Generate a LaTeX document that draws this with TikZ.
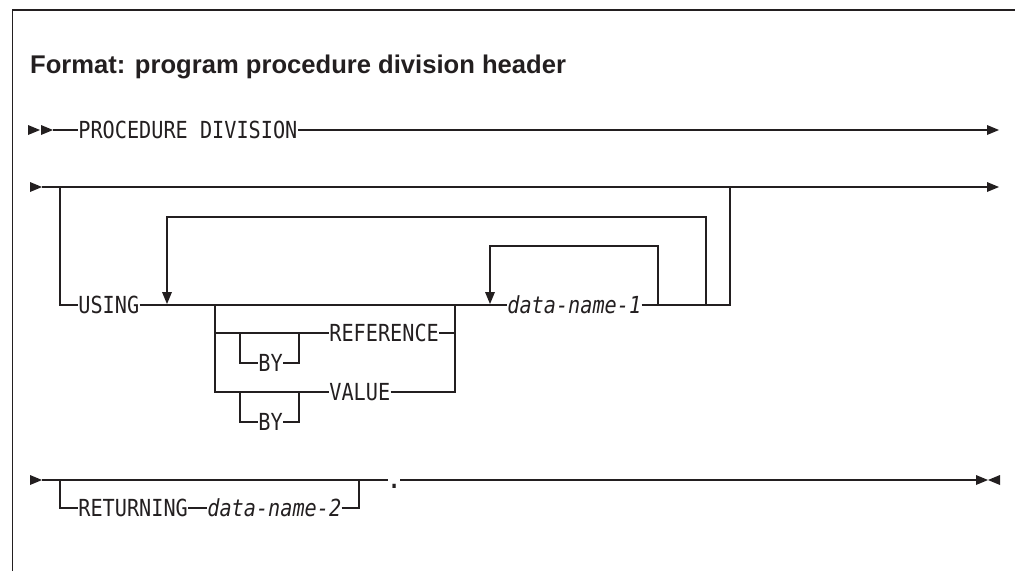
\documentclass[tikz,border=0pt]{standalone}
\usepackage{fontspec}
\setmainfont{Liberation Sans}
\newfontfamily\synmono[FakeStretch=0.86]{DejaVu Sans Mono}
\definecolor{ink}{RGB}{35,31,32}
\newcommand\railR[2]{\fill[ink] (#1,#2-5) -- (#1+12,#2) -- (#1,#2+5) -- cycle;}
\newcommand\railL[2]{\fill[ink] (#1,#2-5) -- (#1-12,#2) -- (#1,#2+5) -- cycle;}
\newcommand\railD[2]{\fill[ink] (#1-5,#2-12) -- (#1,#2) -- (#1+5,#2-12) -- cycle;}
\tikzset{
  rail/.style={draw=ink, line width=1.2pt},
  kw/.style={font=\synmono\fontsize{23.5}{28}\selectfont, text=ink, inner xsep=0.4pt, inner ysep=0pt, outer sep=0pt, anchor=base west},
  var/.style={kw, font=\synmono\itshape\fontsize{23.5}{28}\selectfont},
}
\begin{document}
\begin{tikzpicture}[x=1pt, y=-1pt]
\useasboundingbox (0,0) rectangle (1015,571);
% frame
\draw[ink, line width=1.3pt] (12.5,571) -- (12.5,10) -- (1015,10);
\node[font=\bfseries\fontsize{25.6}{30}\selectfont, anchor=base west, inner sep=0pt, text=ink] (title) at (30,73) {Format: program procedure division header};

% ---------- row 1
\node[kw] (proc) at (78,138) {PROCEDURE DIVISION};
\coordinate (s1) at (53,130);
\coordinate (e1) at (987,130);
\railR{28}{130}\railR{41}{130}
\draw[rail] (s1) -- (proc.west |- s1);
\draw[rail] (proc.east |- s1) -- (e1);
\railR{987}{130}

% ---------- row 2
\node[kw] (using) at (78,313) {USING};
\node[kw] (ref) at (329,341) {REFERENCE};
\node[kw] (by1) at (258,371) {BY};
\node[kw] (val) at (329,400) {VALUE};
\node[kw] (by2) at (258,430) {BY};
\node[var] (dn1) at (507,313) {data-name-1};

\coordinate (s2) at (42,187);
\coordinate (b2) at (60,187);
\coordinate (j2) at (730,187);
\coordinate (e2) at (987,187);
\coordinate (m0) at (60,305);
\coordinate (m9) at (730,305);
\railR{30}{187}
\draw[rail] (s2) -- (e2);
\railR{987}{187}
\draw[rail] (b2) -- (m0) -- (using.west |- m0);
\draw[rail] (using.east |- m0) -- (dn1.west |- m0);
\draw[rail] (dn1.east |- m0) -- (m9) -- (j2);

% choice REFERENCE / VALUE
\coordinate (c0) at (215,305);
\coordinate (c1) at (215,333);
\coordinate (c2) at (215,392);
\coordinate (d0) at (455,305);
\coordinate (d1) at (455,333);
\coordinate (d2) at (455,392);
\draw[rail] (c0) -- (c2) -- (val.west |- c2);
\draw[rail] (c1) -- (ref.west |- c1);
\draw[rail] (ref.east |- d1) -- (d1);
\draw[rail] (val.east |- d2) -- (d2) -- (d0);

% optional BY (reference)
\coordinate (ba) at (240,333);
\coordinate (bb) at (240,363);
\coordinate (bc) at (299,363);
\coordinate (bd) at (299,333);
\draw[rail] (ba) -- (bb) -- (by1.west |- bb);
\draw[rail] (by1.east |- bb) -- (bc) -- (bd);
% optional BY (value)
\coordinate (va) at (240,392);
\coordinate (vb) at (240,422);
\coordinate (vc) at (299,422);
\coordinate (vd) at (299,392);
\draw[rail] (va) -- (vb) -- (by2.west |- vb);
\draw[rail] (by2.east |- vb) -- (vc) -- (vd);

% outer repeat loop
\coordinate (l1a) at (706,305);
\coordinate (l1b) at (706,217);
\coordinate (l1c) at (167,217);
\coordinate (l1d) at (167,293);
\draw[rail] (l1a) -- (l1b) -- (l1c) -- (l1d);
\railD{167}{304}
% inner repeat loop
\coordinate (l2a) at (658,305);
\coordinate (l2b) at (658,246);
\coordinate (l2c) at (490,246);
\coordinate (l2d) at (490,293);
\draw[rail] (l2a) -- (l2b) -- (l2c) -- (l2d);
\railD{490}{304}

% ---------- row 3
\node[kw] (ret) at (78,516) {RETURNING};
\node[var] (dn2) at (207,516) {data-name-2};
\node[kw, inner xsep=0pt, font=\synmono\bfseries\fontsize{23.5}{28}\selectfont] (period) at (388,488) {.};
\coordinate (s3) at (42,480);
\coordinate (b3) at (60,480);
\coordinate (r0) at (60,508);
\coordinate (k0) at (359,508);
\coordinate (k3) at (359,480);
\coordinate (e3) at (976,480);
\railR{30}{480}
\draw[rail] (s3) -- (period.west |- s3);
\draw[rail] (b3) -- (r0) -- (ret.west |- r0);
\draw[rail] (ret.east |- r0) -- (dn2.west |- r0);
\draw[rail] (dn2.east |- r0) -- (k0) -- (k3);
\draw[rail] (period.east |- s3) -- (e3);
\railR{976}{480}
\railL{1000}{480}
\end{tikzpicture}
\end{document}
